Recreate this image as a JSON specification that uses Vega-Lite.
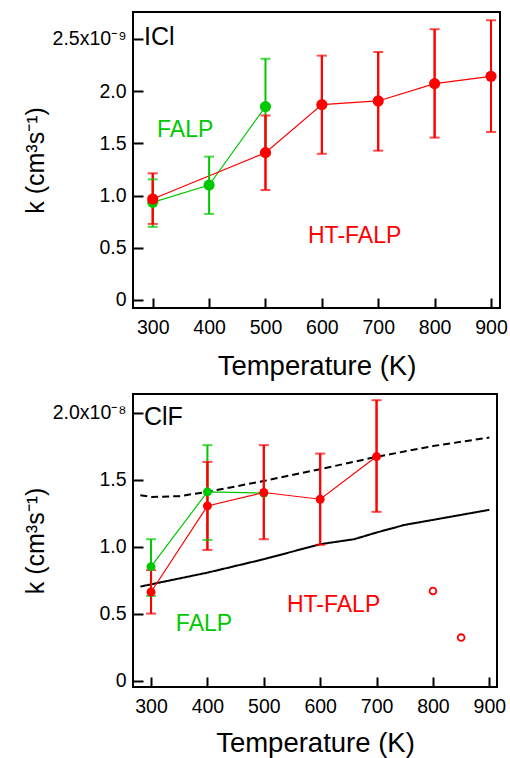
{
  "$schema": "https://vega.github.io/schema/vega-lite/v6.json",
  "padding": {"left": 22, "top": 11, "right": 5, "bottom": 2},
  "background": "white",
  "spacing": 12,
  "config": {
    "font": "Liberation Sans",
    "view": {"stroke": "black", "strokeWidth": 2},
    "axis": {
      "domain": false, "grid": false, "tickColor": "black", "tickWidth": 2, "tickSize": -10,
      "labelColor": "black", "labelFontSize": 19.5, "titleColor": "black", "titleFontWeight": "normal",
      "labelFont": "Liberation Sans", "titleFont": "Liberation Sans"
    },
    "text": {"font": "Liberation Sans"}
  },
  "datasets": {
    "icl": [
      {"T": 300, "k": 0.935, "lo": 0.70, "hi": 1.155, "series": "FALP"},
      {"T": 400, "k": 1.10, "lo": 0.824, "hi": 1.373, "series": "FALP"},
      {"T": 500, "k": 1.852, "lo": 1.39, "hi": 2.31, "series": "FALP"},
      {"T": 300, "k": 0.967, "lo": 0.728, "hi": 1.213, "series": "HT-FALP"},
      {"T": 500, "k": 1.411, "lo": 1.054, "hi": 1.766, "series": "HT-FALP"},
      {"T": 600, "k": 1.871, "lo": 1.40, "hi": 2.34, "series": "HT-FALP"},
      {"T": 700, "k": 1.906, "lo": 1.43, "hi": 2.375, "series": "HT-FALP"},
      {"T": 800, "k": 2.072, "lo": 1.555, "hi": 2.593, "series": "HT-FALP"},
      {"T": 900, "k": 2.142, "lo": 1.609, "hi": 2.679, "series": "HT-FALP"}
    ],
    "iclLabels": [
      {"T": 284.5, "k": 2.52, "label": "ICl", "series": "name"},
      {"T": 307.6, "k": 1.63, "label": "FALP", "series": "FALP"},
      {"T": 575.4, "k": 0.61, "label": "HT-FALP", "series": "HT-FALP"}
    ],
    "clf": [
      {"T": 300, "k": 0.852, "lo": 0.634, "hi": 1.056, "series": "FALP"},
      {"T": 400, "k": 1.409, "lo": 1.051, "hi": 1.757, "series": "FALP"},
      {"T": 500, "k": 1.40, "lo": null, "hi": null, "series": "FALP"},
      {"T": 300, "k": 0.663, "lo": 0.502, "hi": 0.827, "series": "HT-FALP"},
      {"T": 400, "k": 1.304, "lo": 0.976, "hi": 1.632, "series": "HT-FALP"},
      {"T": 500, "k": 1.404, "lo": 1.056, "hi": 1.757, "series": "HT-FALP"},
      {"T": 600, "k": 1.354, "lo": 1.014, "hi": 1.694, "series": "HT-FALP"},
      {"T": 700, "k": 1.672, "lo": 1.26, "hi": 2.092, "series": "HT-FALP"}
    ],
    "clfOpen": [
      {"T": 800, "k": 0.671, "series": "HT-FALP"},
      {"T": 850, "k": 0.323, "series": "HT-FALP"}
    ],
    "clfModel": [
      {"T": 281, "k": 1.384, "model": "dashed"},
      {"T": 300, "k": 1.371, "model": "dashed"},
      {"T": 350, "k": 1.377, "model": "dashed"},
      {"T": 400, "k": 1.409, "model": "dashed"},
      {"T": 500, "k": 1.49, "model": "dashed"},
      {"T": 600, "k": 1.578, "model": "dashed"},
      {"T": 700, "k": 1.67, "model": "dashed"},
      {"T": 800, "k": 1.75, "model": "dashed"},
      {"T": 900, "k": 1.814, "model": "dashed"},
      {"T": 281, "k": 0.703, "model": "solid"},
      {"T": 300, "k": 0.72, "model": "solid"},
      {"T": 400, "k": 0.807, "model": "solid"},
      {"T": 500, "k": 0.907, "model": "solid"},
      {"T": 600, "k": 1.019, "model": "solid"},
      {"T": 660, "k": 1.056, "model": "solid"},
      {"T": 700, "k": 1.106, "model": "solid"},
      {"T": 750, "k": 1.163, "model": "solid"},
      {"T": 800, "k": 1.2, "model": "solid"},
      {"T": 900, "k": 1.275, "model": "solid"}
    ],
    "clfLabels": [
      {"T": 287.5, "k": 1.965, "label": "ClF", "series": "name"},
      {"T": 344, "k": 0.428, "label": "FALP", "series": "FALP"},
      {"T": 541, "k": 0.563, "label": "HT-FALP", "series": "HT-FALP"}
    ]
  },
  "vconcat": [
    {
      "width": 367, "height": 296,
      "layer": [
        {
          "data": {"name": "icl"},
          "mark": {"type": "line", "strokeWidth": 1.2},
          "encoding": {
            "x": {"field": "T", "type": "quantitative", "scale": {"domain": [265, 916], "nice": false, "zero": false},
                  "axis": {"values": [300, 400, 500, 600, 700, 800, 900], "title": "Temperature (K)", "titleFontSize": 27.5, "labelPadding": 20, "titlePadding": 16, "labelFlush": false}},
            "y": {"field": "k", "type": "quantitative", "scale": {"domain": [-0.077, 2.758], "nice": false, "zero": false},
                  "axis": {"values": [0, 0.5, 1, 1.5, 2, 2.5], "title": "k (cm³s⁻¹)", "titleFontSize": 25, "labelPadding": 17, "titlePadding": 4,
                           "labelExpr": "datum.value == 2.5 ? '2.5x10⁻⁹' : (datum.value == 0 ? '0' : format(datum.value, '.1f'))"}},
            "color": {"field": "series", "type": "nominal", "scale": {"domain": ["FALP", "HT-FALP", "name"], "range": ["#00c800", "#ff0000", "#000000"]}, "legend": null}
          }
        },
        {
          "data": {"name": "icl"},
          "transform": [{"filter": "isValid(datum.lo)"}],
          "mark": {"type": "rule", "strokeWidth": 2},
          "encoding": {
            "x": {"field": "T", "type": "quantitative"},
            "y": {"field": "lo", "type": "quantitative"},
            "y2": {"field": "hi"},
            "color": {"field": "series", "type": "nominal"}
          }
        },
        {
          "data": {"name": "icl"},
          "transform": [{"filter": "datum.series == 'HT-FALP'"}],
          "mark": {"type": "rule", "strokeWidth": 2},
          "encoding": {
            "x": {"field": "T", "type": "quantitative"},
            "y": {"field": "lo", "type": "quantitative"},
            "y2": {"field": "hi"},
            "color": {"field": "series", "type": "nominal"}
          }
        },
        {
          "data": {"name": "icl"},
          "transform": [{"filter": "isValid(datum.lo)"}],
          "mark": {"type": "tick", "orient": "horizontal", "size": 10, "thickness": 2},
          "encoding": {
            "x": {"field": "T", "type": "quantitative"},
            "y": {"field": "lo", "type": "quantitative"},
            "color": {"field": "series", "type": "nominal"}
          }
        },
        {
          "data": {"name": "icl"},
          "transform": [{"filter": "isValid(datum.hi)"}],
          "mark": {"type": "tick", "orient": "horizontal", "size": 10, "thickness": 2},
          "encoding": {
            "x": {"field": "T", "type": "quantitative"},
            "y": {"field": "hi", "type": "quantitative"},
            "color": {"field": "series", "type": "nominal"}
          }
        },
        {
          "data": {"name": "icl"},
          "mark": {"type": "circle", "size": 125, "opacity": 1},
          "encoding": {
            "x": {"field": "T", "type": "quantitative"},
            "y": {"field": "k", "type": "quantitative"},
            "color": {"field": "series", "type": "nominal"}
          }
        },
        {
          "data": {"name": "iclLabels"},
          "mark": {"type": "text", "align": "left", "baseline": "middle", "fontSize": 23},
          "encoding": {
            "x": {"field": "T", "type": "quantitative"},
            "y": {"field": "k", "type": "quantitative"},
            "text": {"field": "label"},
            "size": {"condition": {"test": "datum.series == 'name'", "value": 25}, "value": 23},
            "color": {"field": "series", "type": "nominal"}
          }
        }
      ]
    },
    {
      "width": 364, "height": 293,
      "layer": [
        {
          "data": {"name": "clfModel"},
          "mark": {"type": "line", "strokeWidth": 2, "color": "black"},
          "encoding": {
            "x": {"field": "T", "type": "quantitative", "scale": {"domain": [268, 913.6], "nice": false, "zero": false},
                  "axis": {"values": [300, 400, 500, 600, 700, 800, 900], "title": "Temperature (K)", "titleFontSize": 27.5, "labelPadding": 20, "titlePadding": 14, "labelFlush": false}},
            "y": {"field": "k", "type": "quantitative", "scale": {"domain": [-0.045, 2.138], "nice": false, "zero": false},
                  "axis": {"values": [0, 0.5, 1, 1.5, 2], "title": "k (cm³s⁻¹)", "titleFontSize": 25, "labelPadding": 17, "titlePadding": 4,
                           "labelExpr": "datum.value == 2 ? '2.0x10⁻⁸' : (datum.value == 0 ? '0' : format(datum.value, '.1f'))"}},
            "strokeDash": {"field": "model", "type": "nominal", "scale": {"domain": ["dashed", "solid"], "range": [[7, 4], [1, 0]]}, "legend": null}
          }
        },
        {
          "data": {"name": "clf"},
          "mark": {"type": "line", "strokeWidth": 1.2},
          "encoding": {
            "x": {"field": "T", "type": "quantitative"},
            "y": {"field": "k", "type": "quantitative"},
            "color": {"field": "series", "type": "nominal", "scale": {"domain": ["FALP", "HT-FALP", "name"], "range": ["#00c800", "#ff0000", "#000000"]}, "legend": null}
          }
        },
        {
          "data": {"name": "clf"},
          "transform": [{"filter": "isValid(datum.lo)"}],
          "mark": {"type": "rule", "strokeWidth": 2},
          "encoding": {
            "x": {"field": "T", "type": "quantitative"},
            "y": {"field": "lo", "type": "quantitative"},
            "y2": {"field": "hi"},
            "color": {"field": "series", "type": "nominal"}
          }
        },
        {
          "data": {"name": "clf"},
          "transform": [{"filter": "datum.series == 'HT-FALP'"}],
          "mark": {"type": "rule", "strokeWidth": 2},
          "encoding": {
            "x": {"field": "T", "type": "quantitative"},
            "y": {"field": "lo", "type": "quantitative"},
            "y2": {"field": "hi"},
            "color": {"field": "series", "type": "nominal"}
          }
        },
        {
          "data": {"name": "clf"},
          "transform": [{"filter": "isValid(datum.lo)"}],
          "mark": {"type": "tick", "orient": "horizontal", "size": 10, "thickness": 2},
          "encoding": {
            "x": {"field": "T", "type": "quantitative"},
            "y": {"field": "lo", "type": "quantitative"},
            "color": {"field": "series", "type": "nominal"}
          }
        },
        {
          "data": {"name": "clf"},
          "transform": [{"filter": "isValid(datum.hi)"}],
          "mark": {"type": "tick", "orient": "horizontal", "size": 10, "thickness": 2},
          "encoding": {
            "x": {"field": "T", "type": "quantitative"},
            "y": {"field": "hi", "type": "quantitative"},
            "color": {"field": "series", "type": "nominal"}
          }
        },
        {
          "data": {"name": "clf"},
          "mark": {"type": "circle", "size": 80, "opacity": 1},
          "encoding": {
            "x": {"field": "T", "type": "quantitative"},
            "y": {"field": "k", "type": "quantitative"},
            "color": {"field": "series", "type": "nominal"}
          }
        },
        {
          "data": {"name": "clfOpen"},
          "mark": {"type": "point", "shape": "circle", "filled": false, "size": 45, "strokeWidth": 1.8, "opacity": 1},
          "encoding": {
            "x": {"field": "T", "type": "quantitative"},
            "y": {"field": "k", "type": "quantitative"},
            "color": {"field": "series", "type": "nominal"}
          }
        },
        {
          "data": {"name": "clfLabels"},
          "mark": {"type": "text", "align": "left", "baseline": "middle", "fontSize": 23},
          "encoding": {
            "x": {"field": "T", "type": "quantitative"},
            "y": {"field": "k", "type": "quantitative"},
            "text": {"field": "label"},
            "size": {"condition": {"test": "datum.series == 'name'", "value": 25}, "value": 23},
            "color": {"field": "series", "type": "nominal"}
          }
        }
      ]
    }
  ]
}
